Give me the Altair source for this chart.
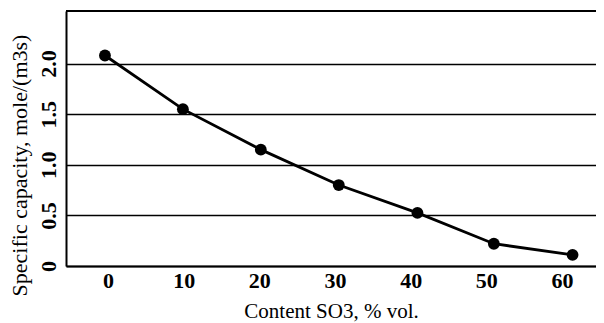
import altair as alt
import pandas as pd

so3_content = [-0.4, 9.9, 20.2, 30.5, 40.9, 51.0, 61.4]
specific_capacity = [2.08, 1.55, 1.15, 0.80, 0.525, 0.22, 0.11]
x_ticks = [0, 10, 20, 30, 40, 50, 60]
y_ticks = [0.5, 1.0, 1.5, 2.0]

df = pd.DataFrame({"x": so3_content, "y": specific_capacity})

FONT = "Liberation Serif"

x_enc = alt.X(
    "x:Q",
    scale=alt.Scale(domain=[-5.55, 64.5], nice=False, zero=False),
    axis=alt.Axis(
        values=x_ticks,
        title="Content SO3, % vol.",
        grid=False,
        ticks=False,
        domainColor="black",
        domainWidth=2,
        labelFont=FONT,
        labelFontSize=22,
        labelFontWeight="bold",
        labelColor="black",
        labelPadding=4,
        labelFlush=False,
        titleFont=FONT,
        titleFontSize=21,
        titleFontWeight="normal",
        titleColor="black",
        titleBaseline="alphabetic",
        titleY=51,
    ),
)
y_enc = alt.Y(
    "y:Q",
    scale=alt.Scale(domain=[0, 2.52], nice=False),
    axis=alt.Axis(
        values=[0] + y_ticks,
        title="Specific capacity, mole/(m3s)",
        grid=True,
        gridColor="black",
        gridWidth=1.5,
        ticks=False,
        domainColor="black",
        domainWidth=2,
        labelFont=FONT,
        labelFontSize=22,
        labelFontWeight="bold",
        labelColor="black",
        labelAngle=-90,
        labelAlign="center",
        labelBaseline="alphabetic",
        labelPadding=11,
        labelFlush=False,
        labelExpr="datum.value == 0 ? '0' : format(datum.value, '.1f')",
        titleFont=FONT,
        titleFontSize=22,
        titleFontWeight="normal",
        titleColor="black",
        titleAngle=-90,
        titleAlign="center",
        titleBaseline="alphabetic",
        titleX=-40,
        titleY=154,
    ),
)

line = alt.Chart(df).mark_line(color="black", strokeWidth=2.8).encode(x=x_enc, y=y_enc)
pts = alt.Chart(df).mark_circle(color="black", opacity=1, size=140).encode(x="x:Q", y="y:Q")
top = alt.Chart(df).mark_rule(color="black", strokeWidth=2).encode(y=alt.value(0))

chart = (
    alt.layer(line, pts, top)
    .properties(
        width=530,
        height=255,
        autosize=alt.AutoSizeParams(type="none"),
        padding={"left": 58, "top": 3, "right": 0, "bottom": 57},
        background="white",
    )
    .configure_view(stroke=None)
)

chart.save("out.html", embed_options={"renderer": "svg", "actions": False})
